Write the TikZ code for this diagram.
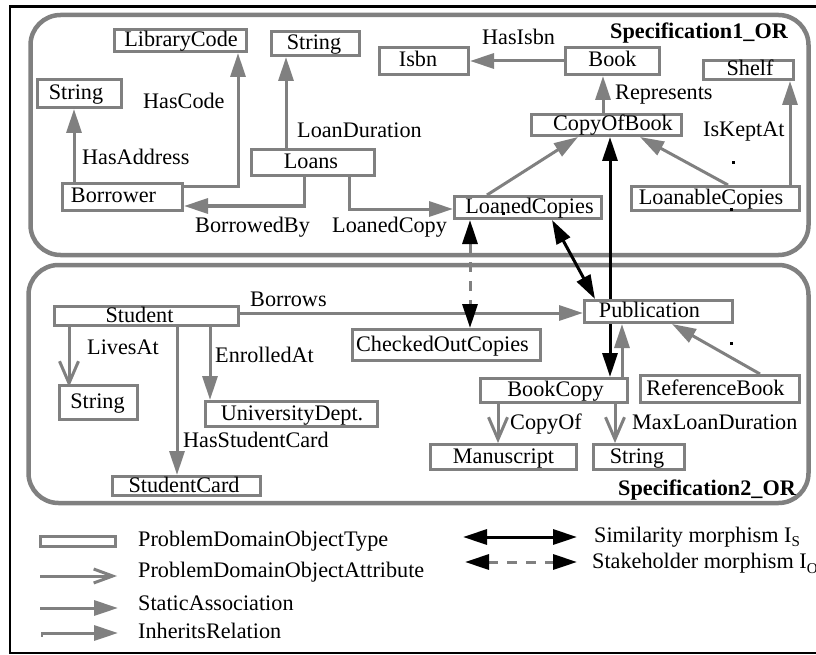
\documentclass[tikz,border=0pt]{standalone}
\usepackage{fontspec}
\setmainfont{Liberation Serif}
\usetikzlibrary{arrows.meta}
\definecolor{linegray}{RGB}{128,128,128}
\pgfdeclarelayer{back}
\pgfsetlayers{back,main}

\tikzset{
  objbox/.style={draw=linegray, line width=3pt, fill=white, inner sep=0pt},
  txt/.style={inner sep=0pt, text height=16pt, text depth=4pt, font=\fontsize{22.2}{26}\selectfont},
  lbl/.style={inner sep=0pt, anchor=base west, font=\fontsize{22.2}{26}\selectfont},
  conn/.style={draw=linegray, line width=3pt},
  assoc/.style={conn, -{Triangle[length=24pt,width=15pt]}},
  attr/.style={conn, -{Straight Barb[length=22pt,width=19pt]}},
  simil/.style={draw=black, line width=3pt,
    {Triangle[length=24pt,width=15pt]}-{Triangle[length=24pt,width=15pt]}},
  stake/.style={draw=linegray, line width=3pt, dash pattern=on 10pt off 9pt,
    {Triangle[length=24pt,width=15pt,color=black]}-{Triangle[length=24pt,width=15pt,color=black]}},
  panel/.style={draw=linegray, line width=4.5pt, rounded corners=30pt},
}

% object type box: name, x1, y1, x2, y2 (outer edges), text centre x, text
\newcommand{\pdobox}[7]{%
  \pgfmathsetmacro{\pdoW}{#4-#2-3}%
  \pgfmathsetmacro{\pdoH}{#5-#3-3}%
  \pgfmathsetmacro{\pdoX}{(#2+#4)/2}%
  \pgfmathsetmacro{\pdoY}{(#3+#5)/2}%
  \node[objbox, minimum width=\pdoW pt, minimum height=\pdoH pt] (#1) at (\pdoX,\pdoY) {};
  \node[txt] (#1-t) at (#6,\pdoY) {#7};
}

\begin{document}
\begin{tikzpicture}[x=1pt, y=-1pt]
\useasboundingbox (0,0) rectangle (816,655);

% ---- object types, Specification1_OR ----
\pdobox{libcode}{113}{28}{248}{53}{181}{LibraryCode}
\pdobox{straddr}{36}{78}{123}{109}{76}{String}
\pdobox{strdur}{270}{30}{361}{57}{314}{String}
\pdobox{isbn}{378}{46}{470}{76}{418}{Isbn}
\pdobox{book}{564}{46}{661}{76}{612.5}{Book}
\pdobox{shelf}{702}{59}{795}{81}{750}{Shelf}
\pdobox{copyofbook}{530}{113}{683}{137}{613}{CopyOfBook}
\pdobox{loans}{250}{148}{376}{177}{311}{Loans}
\pdobox{borrower}{61}{182}{184}{212}{113.5}{Borrower}
\pdobox{loanedcopies}{453}{195}{603}{220}{529.5}{LoanedCopies}
\pdobox{loanable}{630}{185}{801}{212}{711}{LoanableCopies}

% ---- object types, Specification2_OR ----
\pdobox{student}{53}{305}{240}{327}{139.5}{Student}
\pdobox{publication}{583}{299}{734}{324}{649.5}{Publication}
\pdobox{checkedout}{351}{328}{542}{362}{442.5}{CheckedOutCopies}
\pdobox{strlive}{58}{384}{139}{421}{97.5}{String}
\pdobox{unidept}{204}{400}{379}{428}{292}{UniversityDept.}
\pdobox{studentcard}{111}{475}{262}{497}{184}{StudentCard}
\pdobox{bookcopy}{479}{377}{629}{404}{555.5}{BookCopy}
\pdobox{refbook}{639}{374}{801}{404}{715.5}{ReferenceBook}
\pdobox{manuscript}{429}{443}{578}{471}{503.5}{Manuscript}
\pdobox{strmax}{592}{443}{686}{471}{637}{String}

% ---- relation labels ----
\node[lbl] (l-hascode) at (143,109) {HasCode};
\node[lbl] (l-hasaddr) at (82,165) {HasAddress};
\node[lbl] (l-loandur) at (297,138) {LoanDuration};
\node[lbl] (l-hasisbn) at (482,45) {HasIsbn};
\node[lbl] (l-repr) at (615,100) {Represents};
\node[lbl] (l-kept) at (703,137) {IsKeptAt};
\node[lbl] (l-borrowedby) at (195,232) {BorrowedBy};
\node[lbl] (l-loanedcopy) at (332,232) {LoanedCopy};
\node[lbl] (l-borrows) at (250,306) {Borrows};
\node[lbl] (l-lives) at (87,354) {LivesAt};
\node[lbl] (l-enrolled) at (215,362) {EnrolledAt};
\node[lbl] (l-card) at (183,447) {HasStudentCard};
\node[lbl] (l-copyof) at (510,429) {CopyOf};
\node[lbl] (l-maxloan) at (632,429) {MaxLoanDuration};
\node[lbl, font=\fontsize{22.2}{26}\selectfont\bfseries] (spec1) at (610,39) {Specification1\_OR};
\node[lbl, font=\fontsize{22.2}{26}\selectfont\bfseries] (spec2) at (618,495) {Specification2\_OR};

% ---- legend ----
\node[objbox, minimum width=75pt, minimum height=10pt] (legbox) at (78,541.5) {};
\node[lbl] (t-type) at (138,546) {ProblemDomainObjectType};
\node[lbl] (t-attr) at (138,577) {ProblemDomainObjectAttribute};
\node[lbl] (t-assoc) at (138,610) {StaticAssociation};
\node[lbl] (t-inh) at (138,638) {InheritsRelation};
\node[lbl] (t-sim) at (594,542) {Similarity morphism I\raisebox{-4pt}{\fontsize{15}{15}\selectfont S}};
\node[lbl] (t-stake) at (592,568) {Stakeholder morphism I\raisebox{-5pt}{\fontsize{15}{15}\selectfont O}};
\coordinate (la1) at (40,576);  \coordinate (la2) at (117,576);
\coordinate (ls1) at (40,608);  \coordinate (ls2) at (118,608);
\coordinate (li1) at (42,633);  \coordinate (li2) at (118,633);
\coordinate (lm1) at (463,537); \coordinate (lm2) at (577,537);
\coordinate (lk1) at (465,562); \coordinate (lk2) at (577,562);

\begin{pgfonlayer}{back}
  % outer frame and the two specification panels
  \draw[black, line width=2.5pt] (10,6.5) rectangle (824,653);
  \draw[panel] (30.5,15) rectangle (808.5,255);
  \draw[panel] (28.5,265) rectangle (808.5,503);

  % Specification1_OR relations
  \draw[assoc] (borrower.north -| 74,0) -- (straddr.south -| 74,0);
  \draw[assoc] (borrower.east |- 0,187) -| (libcode.south -| 238,0);
  \draw[assoc] (loans.north -| 286,0) -- (strdur.south -| 286,0);
  \draw[assoc] (loans.south -| 304,0) |- (borrower.east |- 0,206);
  \draw[assoc] (loans.south -| 349,0) |- (loanedcopies.west |- 0,209);
  \draw[assoc] (book.west) -- (isbn.east);
  \draw[assoc] (copyofbook.north -| 603,0) -- (book.south -| 603,0);
  \draw[assoc] (loanable.north -| 790,0) -- (shelf.south -| 790,0);
  \draw[assoc] (loanable.north -| 728,0) -- (copyofbook.south -| 640,0);
  \draw[assoc] (loanedcopies.north -| 487,0) -- (copyofbook.south -| 578,0);

  % Specification2_OR relations
  \draw[assoc] (student.east |- 0,313) -- (publication.west |- 0,313);
  \draw[attr] (student.south -| 69,0) -- ([yshift=-3pt]strlive.north -| 69,0);
  \draw[assoc] (student.south -| 210,0) -- (unidept.north -| 210,0);
  \draw[assoc] (student.south -| 177,0) -- (studentcard.north -| 177,0);
  \draw[assoc] (bookcopy.north -| 622,0) -- (publication.south -| 622,0);
  \draw[assoc] (refbook.north -| 760,0) -- (publication.south -| 672,0);
  \draw[attr] (bookcopy.south -| 498,0) -- (manuscript.north -| 498,0);
  \draw[attr] (bookcopy.south -| 615,0) -- (strmax.north -| 615,0);

  % morphisms between the specifications
  \draw[simil] (copyofbook.south -| 610,0) -- (bookcopy.north -| 610,0);
  \draw[simil] (loanedcopies.south -| 552,0) -- (publication.north -| 595,0);
  \draw[stake] (loanedcopies.south -| 470,0) -- (checkedout.north -| 470,0);

  % legend arrows
  \draw[conn, -{Straight Barb[length=19pt,width=14pt]}] (la1) -- (la2);
  \draw[assoc] (ls1) -- (ls2);
  \draw[assoc] (li1) -- (li2);
  \draw[linegray, line width=1.5pt] (42,632) -- (42,637);
  \draw[simil] (lm1) -- (lm2);
  \draw[stake] (lk1) -- (lk2);
\end{pgfonlayer}

% stray marks
\fill[black] (731.5,161.5) rectangle +(3,3);
\fill[black] (729.5,207.5) rectangle +(3,3);
\fill[black] (501.5,211.5) rectangle +(3,3);
\fill[black] (729.5,341.5) rectangle +(3,3);
\end{tikzpicture}
\end{document}
